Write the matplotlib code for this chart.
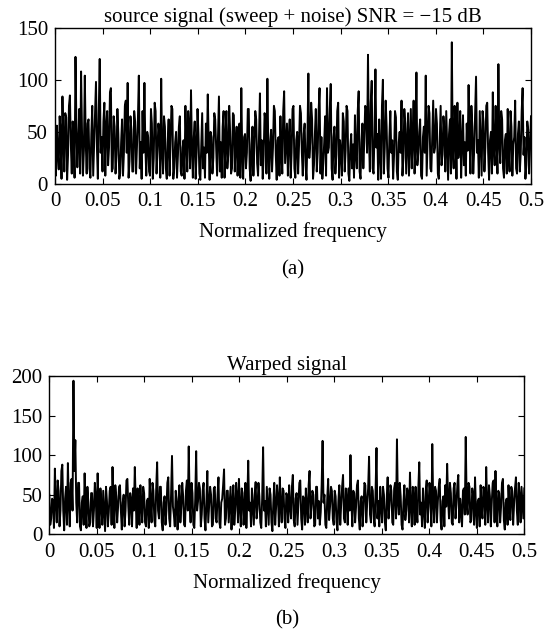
import numpy as np
import matplotlib
matplotlib.use("Agg")
import matplotlib.pyplot as plt

plt.rcParams['font.family'] = ['Liberation Serif', 'DejaVu Serif']
plt.rcParams['axes.unicode_minus'] = True

# ---- data ----
source_values = [
    42, 8, 56, 30, 14, 65, 50, 5, 84, 40, 12, 68, 64, 4, 28, 75, 85, 38, 10, 60, 46, 6, 122, 55, 16, 40, 72, 10, 108, 50, 8, 32,
    104, 40, 10, 58, 62, 15, 6, 48, 75, 8, 38, 65, 98, 35, 5, 70, 120, 30, 45, 12, 60, 78, 8, 55, 70, 18, 35, 88, 92, 12, 15, 65,
    55, 10, 28, 72, 48, 5, 10, 40, 62, 8, 30, 75, 80, 30, 97, 6, 22, 65, 52, 12, 12, 70, 60, 10, 35, 62, 104, 15, 40, 5, 70, 30,
    97, 35, 8, 50, 45, 12, 8, 72, 58, 5, 25, 78, 70, 10, 32, 58, 48, 6, 101, 30, 10, 65, 55, 15, 5, 40, 62, 8, 38, 75, 72, 5,
    15, 40, 50, 6, 28, 55, 65, 12, 8, 35, 42, 5, 75, 40, 12, 70, 55, 15, 90, 35, 6, 45, 60, 5, 30, 72, 48, 10, 4, 38, 68, 15,
    35, 6, 58, 30, 86, 40, 4, 50, 45, 10, 25, 68, 62, 35, 8, 45, 84, 12, 40, 6, 55, 70, 6, 42, 70, 15, 28, 75, 50, 10, 15, 68,
    66, 12, 38, 55, 8, 40, 58, 6, 92, 30, 5, 45, 48, 15, 30, 72, 72, 15, 3, 38, 55, 8, 35, 70, 62, 20, 8, 45, 87, 18, 42, 5,
    28, 68, 60, 10, 101, 35, 5, 40, 52, 12, 35, 75, 70, 28, 4, 42, 45, 8, 65, 30, 10, 70, 89, 20, 40, 58, 8, 45, 62, 6, 30, 72,
    75, 15, 6, 42, 50, 10, 38, 75, 68, 30, 8, 48, 58, 18, 4, 45, 106, 25, 40, 78, 62, 5, 18, 48, 72, 12, 30, 70, 92, 10, 45, 5,
    20, 40, 65, 8, 92, 30, 35, 72, 96, 15, 4, 45, 55, 10, 28, 70, 78, 6, 42, 30, 8, 68, 60, 12, 32, 75, 70, 10, 3, 35, 48, 15,
    38, 6, 66, 28, 15, 70, 89, 12, 5, 40, 58, 15, 40, 75, 72, 30, 124, 45, 12, 78, 99, 15, 10, 50, 110, 35, 48, 4, 62, 30, 5, 75,
    100, 10, 35, 80, 55, 15, 6, 45, 70, 30, 42, 5, 28, 70, 64, 12, 4, 40, 50, 30, 80, 8, 25, 72, 58, 10, 38, 68, 8, 40, 72, 15,
    45, 80, 10, 38, 107, 18, 30, 50, 62, 8, 5, 45, 55, 30, 104, 8, 40, 75, 68, 15, 12, 48, 80, 30, 35, 72, 58, 10, 5, 42, 75, 18,
    28, 65, 50, 12, 70, 35, 4, 48, 62, 10, 136, 30, 15, 75, 48, 5, 78, 25, 35, 70, 6, 40, 66, 18, 40, 8, 58, 32, 95, 45, 10, 75,
    55, 10, 32, 68, 103, 30, 42, 6, 70, 38, 8, 70, 60, 12, 35, 75, 78, 30, 4, 42, 50, 10, 88, 35, 18, 75, 45, 10, 115, 40, 20, 70,
    62, 15, 6, 42, 48, 10, 72, 30, 12, 70, 55, 8, 38, 45, 80, 15, 10, 48, 60, 12, 30, 70, 92, 28, 45, 5, 18, 60, 52, 10, 35, 65,
]

warped_values = [
    50, 12, 20, 45, 42, 8, 83, 40, 15, 68, 55, 10, 30, 80, 88, 30, 5, 45, 60, 12, 90, 40, 10, 65, 70, 30, 194, 80, 119, 40, 15, 65,
    65, 10, 5, 40, 48, 12, 77, 35, 8, 60, 40, 10, 15, 52, 52, 10, 30, 65, 45, 8, 77, 35, 8, 58, 38, 12, 55, 30, 4, 60, 42, 10,
    28, 55, 60, 12, 85, 38, 8, 62, 48, 15, 35, 60, 62, 30, 6, 40, 50, 10, 30, 68, 70, 35, 12, 52, 44, 10, 58, 30, 85, 40, 8, 58,
    40, 12, 62, 35, 15, 60, 52, 15, 10, 42, 45, 8, 70, 40, 15, 65, 55, 18, 10, 58, 91, 30, 20, 60, 60, 15, 5, 40, 48, 12, 30, 65,
    72, 20, 10, 50, 99, 35, 25, 10, 55, 38, 6, 45, 62, 15, 35, 65, 48, 12, 10, 55, 68, 30, 111, 40, 15, 65, 52, 12, 8, 45, 105, 30,
    42, 65, 58, 10, 25, 55, 65, 20, 5, 40, 80, 15, 38, 60, 50, 10, 12, 58, 60, 20, 15, 50, 72, 15, 8, 40, 45, 62, 82, 12, 20, 55,
    55, 15, 38, 60, 6, 40, 62, 12, 30, 65, 48, 15, 70, 35, 10, 58, 52, 12, 35, 65, 8, 42, 93, 30, 40, 10, 58, 35, 12, 50, 66, 20,
    32, 65, 48, 15, 8, 45, 110, 30, 42, 10, 60, 35, 12, 58, 50, 15, 4, 40, 65, 12, 35, 62, 45, 10, 72, 35, 15, 58, 55, 20, 8, 52,
    48, 15, 62, 35, 20, 60, 75, 18, 10, 45, 52, 12, 38, 65, 68, 20, 6, 48, 45, 12, 58, 35, 15, 62, 80, 20, 35, 55, 50, 10, 12, 60,
    60, 20, 42, 12, 28, 62, 118, 40, 50, 12, 8, 45, 70, 18, 35, 60, 55, 20, 12, 55, 48, 15, 5, 42, 62, 12, 38, 60, 75, 20, 15, 58,
    45, 12, 58, 30, 100, 40, 10, 55, 52, 15, 35, 62, 68, 20, 6, 42, 48, 10, 30, 65, 62, 15, 40, 58, 98, 25, 15, 60, 55, 20, 10, 55,
    109, 20, 42, 10, 60, 35, 15, 60, 50, 15, 5, 45, 72, 20, 38, 62, 55, 15, 12, 58, 65, 20, 120, 40, 25, 65, 48, 12, 6, 40, 62, 18,
    30, 58, 52, 15, 78, 35, 10, 60, 45, 12, 60, 30, 15, 58, 91, 25, 40, 10, 58, 30, 8, 55, 68, 15, 35, 65, 50, 10, 114, 40, 15, 60,
    55, 15, 42, 60, 70, 18, 6, 42, 48, 10, 62, 35, 89, 45, 20, 65, 52, 15, 12, 58, 65, 20, 38, 62, 75, 15, 45, 30, 10, 55, 58, 25,
    123, 40, 25, 65, 60, 15, 18, 58, 50, 12, 72, 30, 8, 42, 45, 10, 62, 35, 20, 60, 55, 12, 85, 40, 15, 62, 48, 10, 40, 65, 68, 15,
    80, 30, 10, 55, 52, 15, 35, 65, 70, 18, 6, 40, 45, 12, 62, 35, 18, 60, 55, 12, 38, 58, 72, 30, 12, 65, 48, 15, 60, 40, 20, 58,
]

x_ticks = [0, 0.05, 0.1, 0.15, 0.2, 0.25, 0.3, 0.35, 0.4, 0.45, 0.5]
x_tick_labels = ['0', '0.05', '0.1', '0.15', '0.2', '0.25', '0.3', '0.35', '0.4', '0.45', '0.5']
top_y_ticks = [0, 50, 100, 150]
bottom_y_ticks = [0, 50, 100, 150, 200]

top_title = 'source signal (sweep + noise) SNR = \u221215 dB'
bottom_title = 'Warped signal'
x_label = 'Normalized frequency'

freq_source = np.linspace(0, 0.5, len(source_values))
freq_warped = np.linspace(0, 0.5, len(warped_values))

W, H = 554, 638
fig = plt.figure(figsize=(W / 100, H / 100), dpi=100)

FS = 15

def setup(ax, yticks, ymax, title):
    ax.set_xlim(0, 0.5)
    ax.set_ylim(0, ymax)
    ax.set_xticks(x_ticks)
    ax.set_xticklabels(x_tick_labels)
    ax.set_yticks(yticks)
    ax.tick_params(direction='in', top=True, right=True, length=4, width=0.8,
                   labelsize=FS, pad=5)
    ax.tick_params(axis='x', pad=6)
    for s in ax.spines.values():
        s.set_linewidth(1.0)
    ax.set_title(title, fontsize=FS, pad=4)
    ax.set_xlabel(x_label, fontsize=FS, labelpad=8)

ax1 = fig.add_axes([55 / W, 1 - 184 / H, (531 - 55) / W, (184 - 27.7) / H])
ax1.plot(freq_source, source_values, color='black', linewidth=1.4)
setup(ax1, top_y_ticks, 150, top_title)
fig.text(293 / W, 1 - 270 / H, '(a)', ha='center', va='center', fontsize=FS)

ax2 = fig.add_axes([49.3 / W, 1 - 534.3 / H, (524.3 - 49.3) / W, (534.3 - 376) / H])
ax2.plot(freq_warped, warped_values, color='black', linewidth=1.4)
setup(ax2, bottom_y_ticks, 200, bottom_title)
fig.text(287 / W, 1 - 620 / H, '(b)', ha='center', va='center', fontsize=FS)

fig.savefig('out.png', dpi=100)
